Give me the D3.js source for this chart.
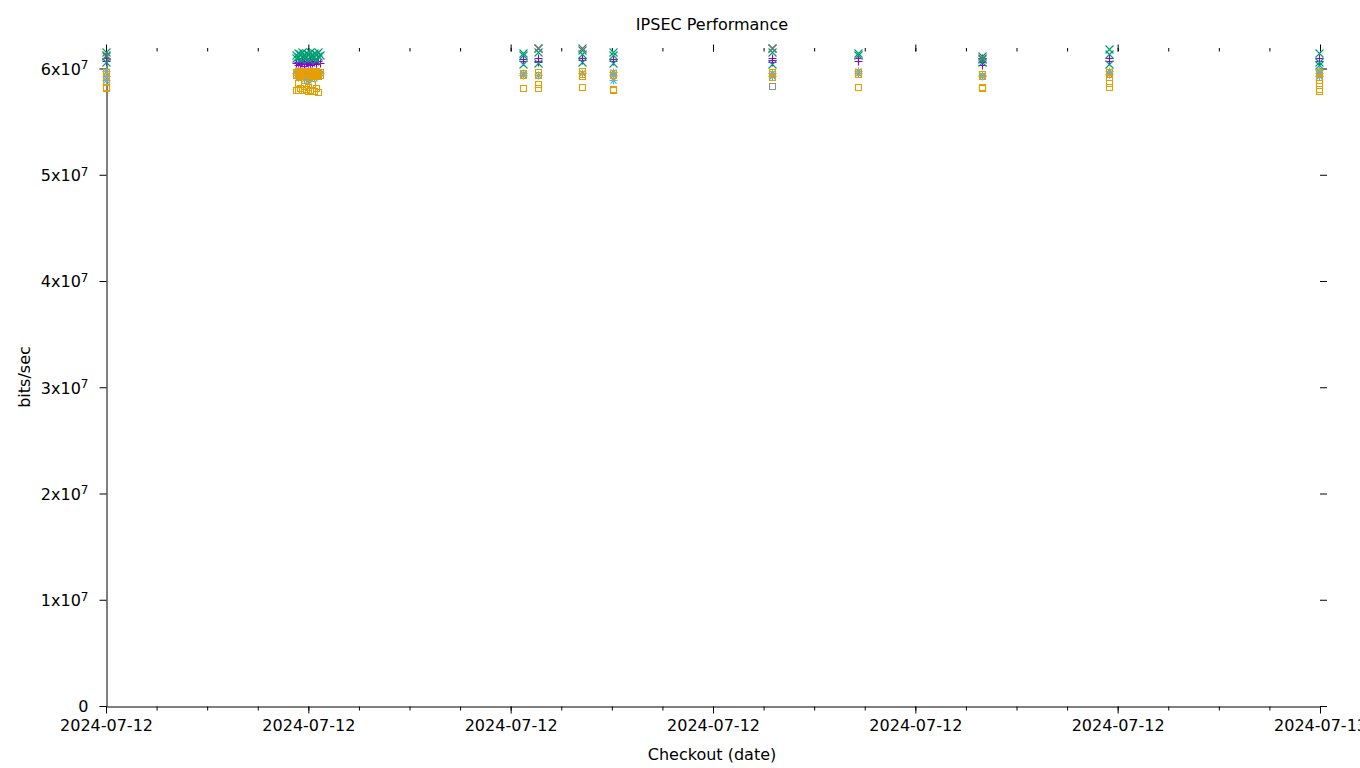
<!DOCTYPE html>
<html>
<head>
<meta charset="utf-8">
<script src="https://cdn.jsdelivr.net/npm/d3@7"></script>
<style>
  html, body { margin: 0; padding: 0; background: #fff; }
  svg { display: block; font-family: "DejaVu Sans", sans-serif; }
</style>
</head>
<body>
<svg id="chart" width="1360" height="768"></svg>
<script>
// ---- data (time of day on 2024-07-12, bits/sec) ----
const dateDay = "2024-07-12";
const xDomain = ["2024-07-12 00:00", "2024-07-13 00:00"];
const yMax = 6.16e7;
const yTickValues = [0, 1e7, 2e7, 3e7, 4e7, 5e7, 6e7];

const seriesPurple = [
  ["00:00", 61.0e6], ["00:00", 60.7e6],
  ["03:45", 60.5e6], ["03:48", 60.6e6], ["03:48", 60.3e6], ["03:50", 60.4e6], ["03:52", 60.7e6],
  ["03:55", 60.5e6], ["03:55", 60.2e6], ["03:57", 60.6e6], ["04:00", 60.4e6], ["04:02", 60.7e6],
  ["04:02", 60.3e6], ["04:04", 60.5e6], ["04:07", 60.6e6], ["04:09", 60.4e6], ["04:12", 60.7e6],
  ["04:14", 60.5e6],
  ["08:15", 60.9e6], ["08:15", 60.7e6],
  ["08:32", 61.0e6], ["08:32", 60.7e6], ["08:32", 60.6e6],
  ["09:25", 61.0e6], ["09:25", 60.8e6],
  ["10:01", 60.9e6], ["10:01", 60.7e6],
  ["13:10", 61.0e6], ["13:10", 60.8e6], ["13:10", 60.6e6],
  ["14:52", 61.0e6], ["14:52", 60.7e6],
  ["17:19", 61.0e6], ["17:19", 60.6e6], ["17:19", 60.3e6],
  ["19:50", 61.0e6], ["19:50", 60.7e6],
  ["23:59", 61.0e6], ["23:59", 60.7e6]
];

const seriesGreen = [
  ["00:00", 61.6e6], ["00:00", 61.2e6], ["00:00", 60.6e6],
  ["03:45", 61.3e6], ["03:45", 61.0e6], ["03:48", 61.5e6], ["03:48", 61.1e6], ["03:50", 61.4e6],
  ["03:50", 60.9e6], ["03:52", 61.6e6], ["03:52", 61.2e6], ["03:55", 61.3e6], ["03:55", 61.0e6],
  ["03:57", 61.5e6], ["03:57", 61.1e6], ["04:00", 61.4e6], ["04:00", 60.9e6], ["04:02", 61.6e6],
  ["04:02", 61.2e6], ["04:04", 61.3e6], ["04:04", 61.0e6], ["04:07", 61.5e6], ["04:07", 61.1e6],
  ["04:09", 61.4e6], ["04:09", 60.8e6], ["04:12", 61.6e6], ["04:12", 61.2e6], ["04:14", 61.3e6],
  ["08:15", 61.5e6], ["08:15", 61.3e6], ["08:15", 60.4e6],
  ["08:32", 61.9e6], ["08:32", 61.6e6], ["08:32", 60.5e6],
  ["09:25", 61.7e6], ["09:25", 61.4e6], ["09:25", 60.6e6],
  ["10:01", 61.6e6], ["10:01", 61.3e6], ["10:01", 60.5e6],
  ["13:10", 61.9e6], ["13:10", 61.6e6], ["13:10", 60.4e6],
  ["14:52", 61.5e6], ["14:52", 61.3e6],
  ["17:19", 61.2e6], ["17:19", 60.9e6], ["17:19", 60.6e6],
  ["19:50", 61.8e6], ["19:50", 61.4e6], ["19:50", 60.4e6],
  ["23:59", 61.5e6], ["23:59", 60.6e6], ["23:59", 60.3e6]
];

const seriesBlue = [
  ["00:00", 59.8e6], ["00:00", 59.3e6], ["00:00", 58.9e6],
  ["03:45", 59.6e6], ["03:48", 59.9e6], ["03:48", 59.2e6], ["03:50", 59.4e6], ["03:52", 59.8e6],
  ["03:55", 59.0e6], ["03:57", 59.5e6], ["04:00", 59.9e6], ["04:00", 58.9e6], ["04:02", 59.3e6],
  ["04:04", 59.7e6], ["04:07", 59.1e6], ["04:09", 59.8e6], ["04:12", 59.4e6], ["04:14", 59.6e6],
  ["08:15", 59.6e6], ["08:15", 59.4e6],
  ["08:32", 59.4e6],
  ["09:25", 59.6e6],
  ["10:01", 59.7e6], ["10:01", 59.4e6], ["10:01", 58.9e6],
  ["13:10", 59.6e6], ["13:10", 59.3e6],
  ["14:52", 59.8e6], ["14:52", 59.6e6],
  ["17:19", 59.4e6], ["17:19", 59.3e6],
  ["19:50", 59.8e6], ["19:50", 59.5e6],
  ["23:59", 59.9e6], ["23:59", 59.6e6], ["23:59", 59.3e6]
];

const seriesOrange = [
  ["00:00", 59.7e6], ["00:00", 59.3e6], ["00:00", 58.7e6], ["00:00", 58.3e6], ["00:00", 58.2e6],
  ["03:45", 59.7e6], ["03:45", 59.4e6], ["03:45", 58.0e6],
  ["03:48", 59.8e6], ["03:48", 59.5e6], ["03:48", 58.6e6], ["03:48", 58.0e6],
  ["03:50", 59.6e6], ["03:50", 59.3e6], ["03:50", 58.2e6],
  ["03:52", 59.7e6], ["03:52", 59.4e6], ["03:52", 58.0e6],
  ["03:55", 59.8e6], ["03:55", 59.5e6], ["03:55", 58.4e6],
  ["03:57", 59.6e6], ["03:57", 59.2e6], ["03:57", 58.1e6],
  ["04:00", 59.7e6], ["04:00", 59.4e6], ["04:00", 58.3e6], ["04:00", 57.9e6],
  ["04:02", 59.8e6], ["04:02", 59.5e6], ["04:02", 58.0e6],
  ["04:04", 59.6e6], ["04:04", 59.3e6], ["04:04", 58.5e6],
  ["04:07", 59.7e6], ["04:07", 59.4e6], ["04:07", 57.9e6],
  ["04:09", 59.8e6], ["04:09", 59.5e6], ["04:09", 58.2e6],
  ["04:12", 59.6e6], ["04:12", 59.3e6], ["04:12", 57.8e6],
  ["04:14", 59.7e6], ["04:14", 59.4e6],
  ["08:15", 59.6e6], ["08:15", 59.4e6], ["08:15", 58.2e6],
  ["08:32", 59.7e6], ["08:32", 59.4e6], ["08:32", 58.5e6], ["08:32", 58.2e6],
  ["09:25", 59.8e6], ["09:25", 59.5e6], ["09:25", 59.3e6], ["09:25", 58.3e6],
  ["10:01", 59.6e6], ["10:01", 59.4e6], ["10:01", 58.1e6], ["10:01", 58.0e6],
  ["13:10", 59.7e6], ["13:10", 59.5e6], ["13:10", 59.2e6],
  ["14:52", 59.7e6], ["14:52", 59.5e6], ["14:52", 58.3e6],
  ["17:19", 59.5e6], ["17:19", 59.3e6], ["17:19", 58.3e6], ["17:19", 58.2e6],
  ["19:50", 59.7e6], ["19:50", 59.5e6], ["19:50", 59.2e6], ["19:50", 58.6e6], ["19:50", 58.3e6],
  ["23:59", 59.7e6], ["23:59", 59.5e6], ["23:59", 59.2e6], ["23:59", 58.9e6], ["23:59", 58.6e6],
  ["23:59", 58.1e6], ["23:59", 57.9e6]
];

const seriesGrayX = [
  ["00:00", 61.3e6], ["08:32", 61.9e6], ["09:25", 61.9e6], ["13:10", 61.9e6], ["17:19", 61.0e6]
];
const seriesGraySquare = [
  ["13:10", 58.4e6]
];

// ---- layout ----
const svg = d3.select("#chart");
const margin = { left: 106, right: 1320, top: 51.5, bottom: 706 };
const parse = d3.timeParse("%Y-%m-%d %H:%M");
const x = d3.scaleTime().domain(xDomain.map(parse)).range([margin.left, margin.right]);
const y = d3.scaleLinear().domain([0, yMax]).range([margin.bottom, margin.top]);
const fontSize = 16;

const seriesDefs = [
  { data: seriesPurple, color: "#9400d3", shape: "plus" },
  { data: seriesGreen, color: "#009e73", shape: "cross" },
  { data: seriesBlue, color: "#56b4e9", shape: "star" },
  { data: seriesOrange, color: "#e69f00", shape: "square" },
  { data: seriesGrayX, color: "#707070", shape: "cross" },
  { data: seriesGraySquare, color: "#909090", shape: "square" }
];

// ---- axes ----
const axisG = svg.append("g").attr("stroke-width", 1);

const gBottom = axisG.append("g")
  .attr("transform", `translate(0,${margin.bottom + 0.5})`)
  .call(d3.axisBottom(x).ticks(d3.timeHour.every(4)).tickFormat(d3.timeFormat("%Y-%m-%d"))
    .tickSize(7).tickSizeOuter(0).tickPadding(6));
gBottom.select(".domain").attr("stroke", "#000");
gBottom.selectAll("text").attr("font-size", fontSize).attr("fill", "#000").attr("font-family", "DejaVu Sans");
gBottom.selectAll("line").attr("stroke", "#000");

const gBottomMinor = axisG.append("g")
  .attr("transform", `translate(0,${margin.bottom + 0.5})`)
  .call(d3.axisBottom(x).ticks(d3.timeHour.every(1)).tickFormat("").tickSize(4).tickSizeOuter(0));
gBottomMinor.select(".domain").remove();
gBottomMinor.selectAll("line").attr("stroke", "#000");

const gTop = axisG.append("g")
  .attr("transform", `translate(0,${margin.top})`)
  .call(d3.axisTop(x).ticks(d3.timeHour.every(4)).tickFormat("").tickSize(7).tickSizeOuter(0));
gTop.select(".domain").remove();
gTop.selectAll("line").attr("stroke", "#000");
const gTopMinor = axisG.append("g")
  .attr("transform", `translate(0,${margin.top})`)
  .call(d3.axisTop(x).ticks(d3.timeHour.every(1)).tickFormat("").tickSize(3.5).tickSizeOuter(0));
gTopMinor.select(".domain").remove();
gTopMinor.selectAll("line").attr("stroke", "#000");

const gLeft = axisG.append("g")
  .attr("transform", `translate(${margin.left + 0.5},0)`)
  .call(d3.axisLeft(y).tickValues(yTickValues).tickSize(7).tickSizeOuter(0).tickPadding(11)
    .tickFormat(() => ""));
gLeft.select(".domain").attr("stroke", "#000");
gLeft.selectAll("line").attr("stroke", "#000");
gLeft.selectAll(".tick text").each(function (d) {
  const t = d3.select(this).attr("font-size", fontSize).attr("fill", "#000")
    .attr("font-family", "DejaVu Sans").attr("dy", "0.36em");
  if (d === 0) { t.text("0"); return; }
  t.append("tspan").text(`${d / 1e7}x10`);
  t.append("tspan").attr("font-size", 12).attr("dy", "-0.45em").text("7");
});

const gRight = axisG.append("g")
  .attr("transform", `translate(${margin.right},0)`)
  .call(d3.axisRight(y).tickValues(yTickValues).tickSize(7).tickSizeOuter(0).tickFormat(""));
gRight.select(".domain").remove();
gRight.selectAll("line").attr("stroke", "#000");

// ---- points ----
function symbolPath(shape, px, py) {
  const cx = Math.round(px) + 0.5, cy = Math.round(py) + 0.5;
  const h = 4, s = 3;
  switch (shape) {
    case "plus": return `M${cx - h},${cy}H${cx + h}M${cx},${cy - h}V${cy + h}`;
    case "cross": return `M${cx - h},${cy - h}L${cx + h},${cy + h}M${cx - h},${cy + h}L${cx + h},${cy - h}`;
    case "star": return `M${cx - h},${cy}H${cx + h}M${cx},${cy - h}V${cy + h}` +
      `M${cx - 3},${cy - 3}L${cx + 3},${cy + 3}M${cx - 3},${cy + 3}L${cx + 3},${cy - 3}`;
    case "square": return `M${cx - s},${cy - s}H${cx + s}V${cy + s}H${cx - s}Z`;
  }
}

const pointsG = svg.append("g");
seriesDefs.forEach(sd => {
  pointsG.append("g").selectAll("path")
    .data(sd.data)
    .join("path")
    .attr("d", d => symbolPath(sd.shape, x(parse(`${dateDay} ${d[0]}`)), y(d[1])))
    .attr("fill", "none")
    .attr("stroke", sd.color)
    .attr("stroke-width", 1.1);
});

// ---- titles ----
svg.append("text").attr("x", 712).attr("y", 30).attr("text-anchor", "middle")
  .attr("font-size", fontSize).text("IPSEC Performance");
svg.append("text").attr("x", 712).attr("y", 760).attr("text-anchor", "middle")
  .attr("font-size", fontSize).text("Checkout (date)");
svg.append("text").attr("transform", "translate(30,377) rotate(-90)").attr("text-anchor", "middle")
  .attr("font-size", fontSize).text("bits/sec");
</script>
</body>
</html>
